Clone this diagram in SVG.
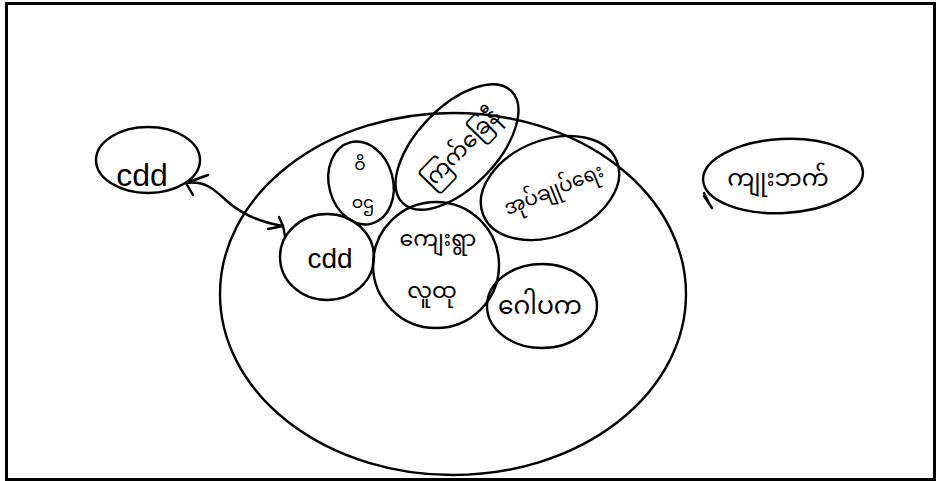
<svg xmlns="http://www.w3.org/2000/svg" width="936" height="481" viewBox="0 0 936 481">
<style>
.sh{fill:none;stroke:#000;stroke-width:2.4;stroke-linecap:round;stroke-linejoin:round}
.my{font-family:"Noto Sans Myanmar","Padauk","Myanmar Text","Noto Sans",sans-serif;fill:#000;text-anchor:middle}
.en{font-family:"Liberation Sans",sans-serif;fill:#000;text-anchor:middle}
</style>
<rect width="936" height="481" fill="#fff"/>
<rect x="6.5" y="3.5" width="928" height="476" fill="none" stroke="#000" stroke-width="3"/>
<g id="village-circle"><ellipse class="sh" cx="453" cy="294" rx="233" ry="181"/></g>
<g id="cdd-outer">
<ellipse class="sh" cx="148" cy="160" rx="52" ry="33"/>
<text class="en" x="142" y="186" font-size="32">cdd</text>
</g>
<g id="cdd-inner">
<ellipse class="sh" cx="327" cy="257" rx="47" ry="43"/>
<text class="en" x="330" y="268" font-size="28">cdd</text>
</g>
<g id="wi">
<ellipse class="sh" cx="361" cy="183" rx="32" ry="42" transform="rotate(-15 361 183)"/>
<text class="my" x="360" y="170" font-size="17">ဝိ</text>
<text class="my" x="363" y="208" font-size="17">ဝဌ</text>
</g>
<g id="red-cross">
<ellipse class="sh" cx="457" cy="147" rx="78" ry="40" transform="rotate(-46 457 147)"/>
<text class="my" x="460" y="156" font-size="22" transform="rotate(-46 460 147)">ကြက်ခြေနီ</text>
</g>
<g id="admin">
<ellipse class="sh" cx="550" cy="188" rx="72" ry="48" transform="rotate(-22 550 188)"/>
<text class="my" x="553" y="196" font-size="20" transform="rotate(-22 553 188)">အုပ်ချုပ်ရေး</text>
</g>
<g id="gopaka">
<ellipse class="sh" cx="542" cy="306" rx="55" ry="42"/>
<text class="my" x="540" y="314" font-size="25">ဂေါပက</text>
</g>
<g id="community">
<circle class="sh" cx="436" cy="265" r="63"/>
<text class="my" x="438" y="246" font-size="22">ကျေးရွာ</text>
<text class="my" x="432" y="298" font-size="22">လူထု</text>
</g>
<g id="outside">
<ellipse class="sh" cx="783" cy="176" rx="80" ry="37" transform="rotate(-3 783 176)"/>
<path class="sh" d="M704 193 L710 205 M704 196 L712 208"/>
<text class="my" x="778" y="186" font-size="24">ကျုးဘက်</text>
</g>
<g id="connectors">
<path class="sh" d="M186 183 C205 180 215 190 228 202 C242 214 258 222 283 226"/>
<path class="sh" d="M186 183 L208 175 M186 183 L193 195"/>
<path class="sh" d="M283 226 L279 217 M283 226 L268 229 M283 226 L285 236"/>
</g>
</svg>
